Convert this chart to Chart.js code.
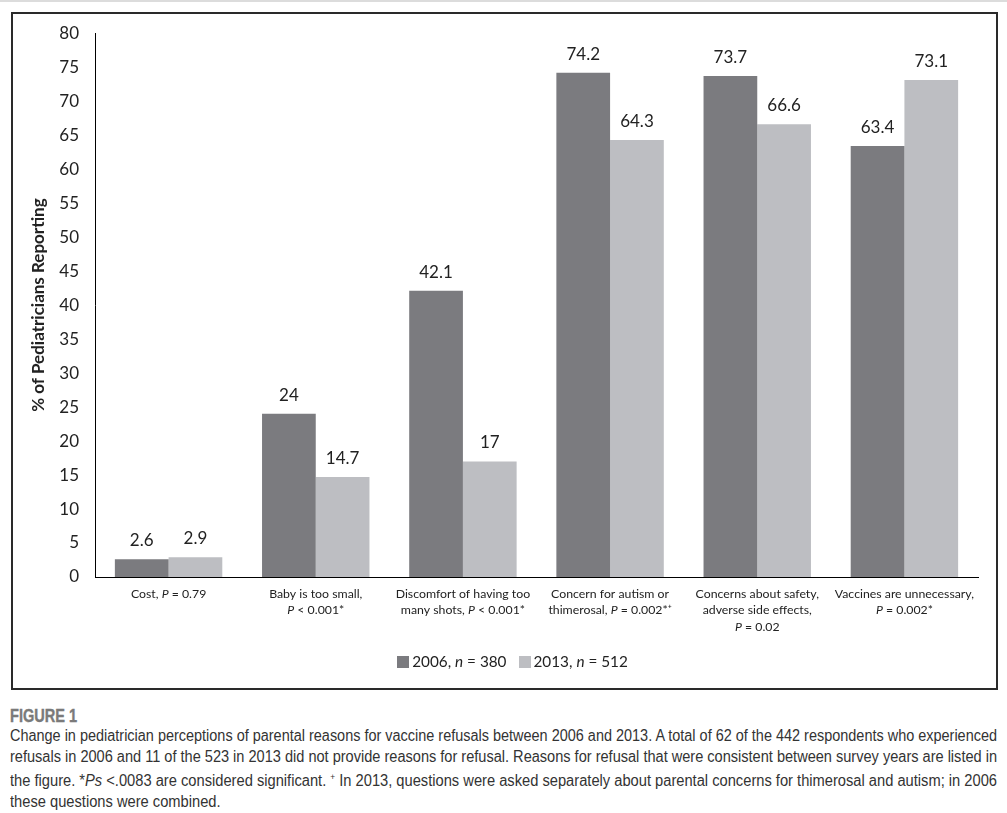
<!DOCTYPE html>
<html>
<head>
<meta charset="utf-8">
<script src="https://cdn.jsdelivr.net/npm/chart.js@4"></script>
<style>
  html, body { margin: 0; padding: 0; background: #fff; }
  body { width: 1007px; height: 813px; position: relative; overflow: hidden; }
  #topline { position: absolute; left: 0; top: 0; width: 1007px; height: 2px; background: #dcdcdc; }
  #box { position: absolute; left: 11px; top: 12px; width: 983px; height: 674px; border: 2px solid #2a2a2a; }
  #chartwrap { position: absolute; left: 0; top: -7px; width: 983px; height: 674px; }
  #legend { position: absolute; left: 8px; top: 638px; width: 983px; text-align: center;
            font-family: Lato, "Open Sans", sans-serif; font-size: 15.3px; color: #222; }
  #legend span.item { display: inline-block; margin: 0 6px; }
  #legend span.sw { display: inline-block; width: 12px; height: 12px; margin-right: 3px; vertical-align: -1px; }
  #caption { position: absolute; left: 10px; top: 706px; width: 987px;
             font-family: "Liberation Sans", sans-serif; color: #333; }
  #caption .fig { font-weight: bold; font-size: 18px; color: #7a7a7a; line-height: 20px; -webkit-text-stroke: 0.4px #7a7a7a; }
  #caption .ln { font-size: 16px; line-height: 20.6px; white-space: nowrap; }
  #caption .fit { display: inline-block; transform-origin: 0 0; }
</style>
</head>
<body>
<div id="topline"></div>
<div id="box">
  <div id="chartwrap"><canvas id="c" width="983" height="674"></canvas></div>
  <div id="legend"></div>
</div>
<div id="caption">
  <div class="fig"><span class="fit" id="figlabel">FIGURE 1</span></div>
  <div class="ln"><span class="fit full">Change in pediatrician perceptions of parental reasons for vaccine refusals between 2006 and 2013. A total of 62 of the 442 respondents who experienced</span></div>
  <div class="ln"><span class="fit full">refusals in 2006 and 11 of the 523 in 2013 did not provide reasons for refusal. Reasons for refusal that were consistent between survey years are listed in</span></div>
  <div class="ln"><span class="fit full">the figure. *<i>Ps</i> &lt;.0083 are considered significant. <sup style="font-size:9px">+</sup> In 2013, questions were asked separately about parental concerns for thimerosal and autism; in 2006</span></div>
  <div class="ln"><span class="fit" id="lastline">these questions were combined.</span></div>
</div>
<script>
// ---- data ----
const categories = [
  ["Cost, P = 0.79"],
  ["Baby is too small,", "P < 0.001*"],
  ["Discomfort of having too", "many shots, P < 0.001*"],
  ["Concern for autism or", "thimerosal, P = 0.002*\u207A"],
  ["Concerns about safety,", "adverse side effects,", "P = 0.02"],
  ["Vaccines are unnecessary,", "P = 0.002*"]
];
const seriesNames = ["2006", "2013"];
const seriesN = [380, 512];
const values2006 = [2.6, 24, 42.1, 74.2, 73.7, 63.4];
const values2013 = [2.9, 14.7, 17, 64.3, 66.6, 73.1];
const yTicks = [0, 5, 10, 15, 20, 25, 30, 35, 40, 45, 50, 55, 60, 65, 70, 75, 80];
const yTitle = "% of Pediatricians Reporting";

const colors = ["#7b7b7f", "#bdbec2"];
const FONT = "Lato, 'Open Sans', sans-serif";

// caption: squeeze each full line to the caption width (condensed look)
(function () {
  const W = 987;
  let lastScale = 0.9;
  document.querySelectorAll('#caption .full').forEach(el => {
    const w = el.getBoundingClientRect().width;
    const s = W / w;
    lastScale = s;
    el.style.transform = 'scaleX(' + s + ')';
  });
  document.getElementById('lastline').style.transform = 'scaleX(' + lastScale + ')';
  document.getElementById('figlabel').style.transform = 'scaleX(' + (lastScale * 0.88) + ')';
})();

// legend (HTML, with italic n)
const legend = document.getElementById('legend');
seriesNames.forEach((name, i) => {
  const s = document.createElement('span');
  s.className = 'item';
  s.innerHTML = '<span class="sw" style="background:' + colors[i] + '"></span>' + name + ', <i>n</i> = ' + seriesN[i];
  legend.appendChild(s);
});

// data labels plugin
const dataLabels = {
  id: 'dataLabels',
  afterDatasetsDraw(chart) {
    const ctx = chart.ctx;
    ctx.save();
    ctx.font = '17px ' + FONT;
    ctx.fillStyle = '#222';
    ctx.textAlign = 'center';
    ctx.textBaseline = 'middle';
    chart.data.datasets.forEach((ds, di) => {
      chart.getDatasetMeta(di).data.forEach((bar, i) => {
        ctx.fillText(String(ds.data[i]), bar.x, bar.y - 18.5);
      });
    });
    ctx.restore();
  }
};

// x labels with italic standalone "P"
const xLabels = {
  id: 'xLabels',
  afterDraw(chart) {
    const ctx = chart.ctx;
    const xs = chart.scales.x;
    const top = chart.chartArea.bottom;
    ctx.save();
    ctx.fillStyle = '#222';
    ctx.textBaseline = 'middle';
    const size = 12.3;
    const normal = size + 'px ' + FONT;
    const italic = 'italic ' + size + 'px ' + FONT;
    categories.forEach((lines, ci) => {
      const cx = xs.getPixelForTick(ci);
      lines.forEach((line, li) => {
        const parts = line.split(/(\bP\b)/).filter(p => p.length);
        let w = 0;
        parts.forEach(p => { ctx.font = (p === 'P') ? italic : normal; w += ctx.measureText(p).width; });
        let x = cx - w / 2;
        const y = top + 17 + li * 16.5;
        ctx.textAlign = 'left';
        parts.forEach(p => {
          ctx.font = (p === 'P') ? italic : normal;
          ctx.fillText(p, x, y);
          x += ctx.measureText(p).width;
        });
      });
    });
    ctx.restore();
  }
};

new Chart(document.getElementById('c'), {
  type: 'bar',
  data: {
    labels: categories.map(l => l.join(' ')),
    datasets: [
      { label: seriesNames[0], data: values2006, backgroundColor: colors[0] },
      { label: seriesNames[1], data: values2013, backgroundColor: colors[1] }
    ]
  },
  options: {
    responsive: false,
    animation: false,
    events: [],
    layout: { padding: { top: 13.5, right: 18, left: 0, bottom: 0 } },
    plugins: { legend: { display: false }, tooltip: { enabled: false } },
    datasets: { bar: { categoryPercentage: 0.73, barPercentage: 1.0 } },
    scales: {
      x: {
        grid: { display: false, drawTicks: false },
        border: { display: true, color: '#000', width: 1 },
        ticks: { display: false },
        afterFit(scale) { scale.height = 104; }
      },
      y: {
        min: 0, max: 80,
        afterBuildTicks(scale) { scale.ticks = yTicks.map(v => ({ value: v })); },
        grid: { display: false, drawTicks: false },
        border: { display: true, color: '#000', width: 1 },
        ticks: { color: '#222', padding: 16, font: { size: 17, family: FONT } },
        title: { display: true, text: yTitle, color: '#222', padding: { top: 15, bottom: 0 },
                 font: { size: 17, weight: 'bold', family: FONT } },
        afterFit(scale) { scale.width = 82; }
      }
    }
  },
  plugins: [dataLabels, xLabels]
});
</script>
</body>
</html>
